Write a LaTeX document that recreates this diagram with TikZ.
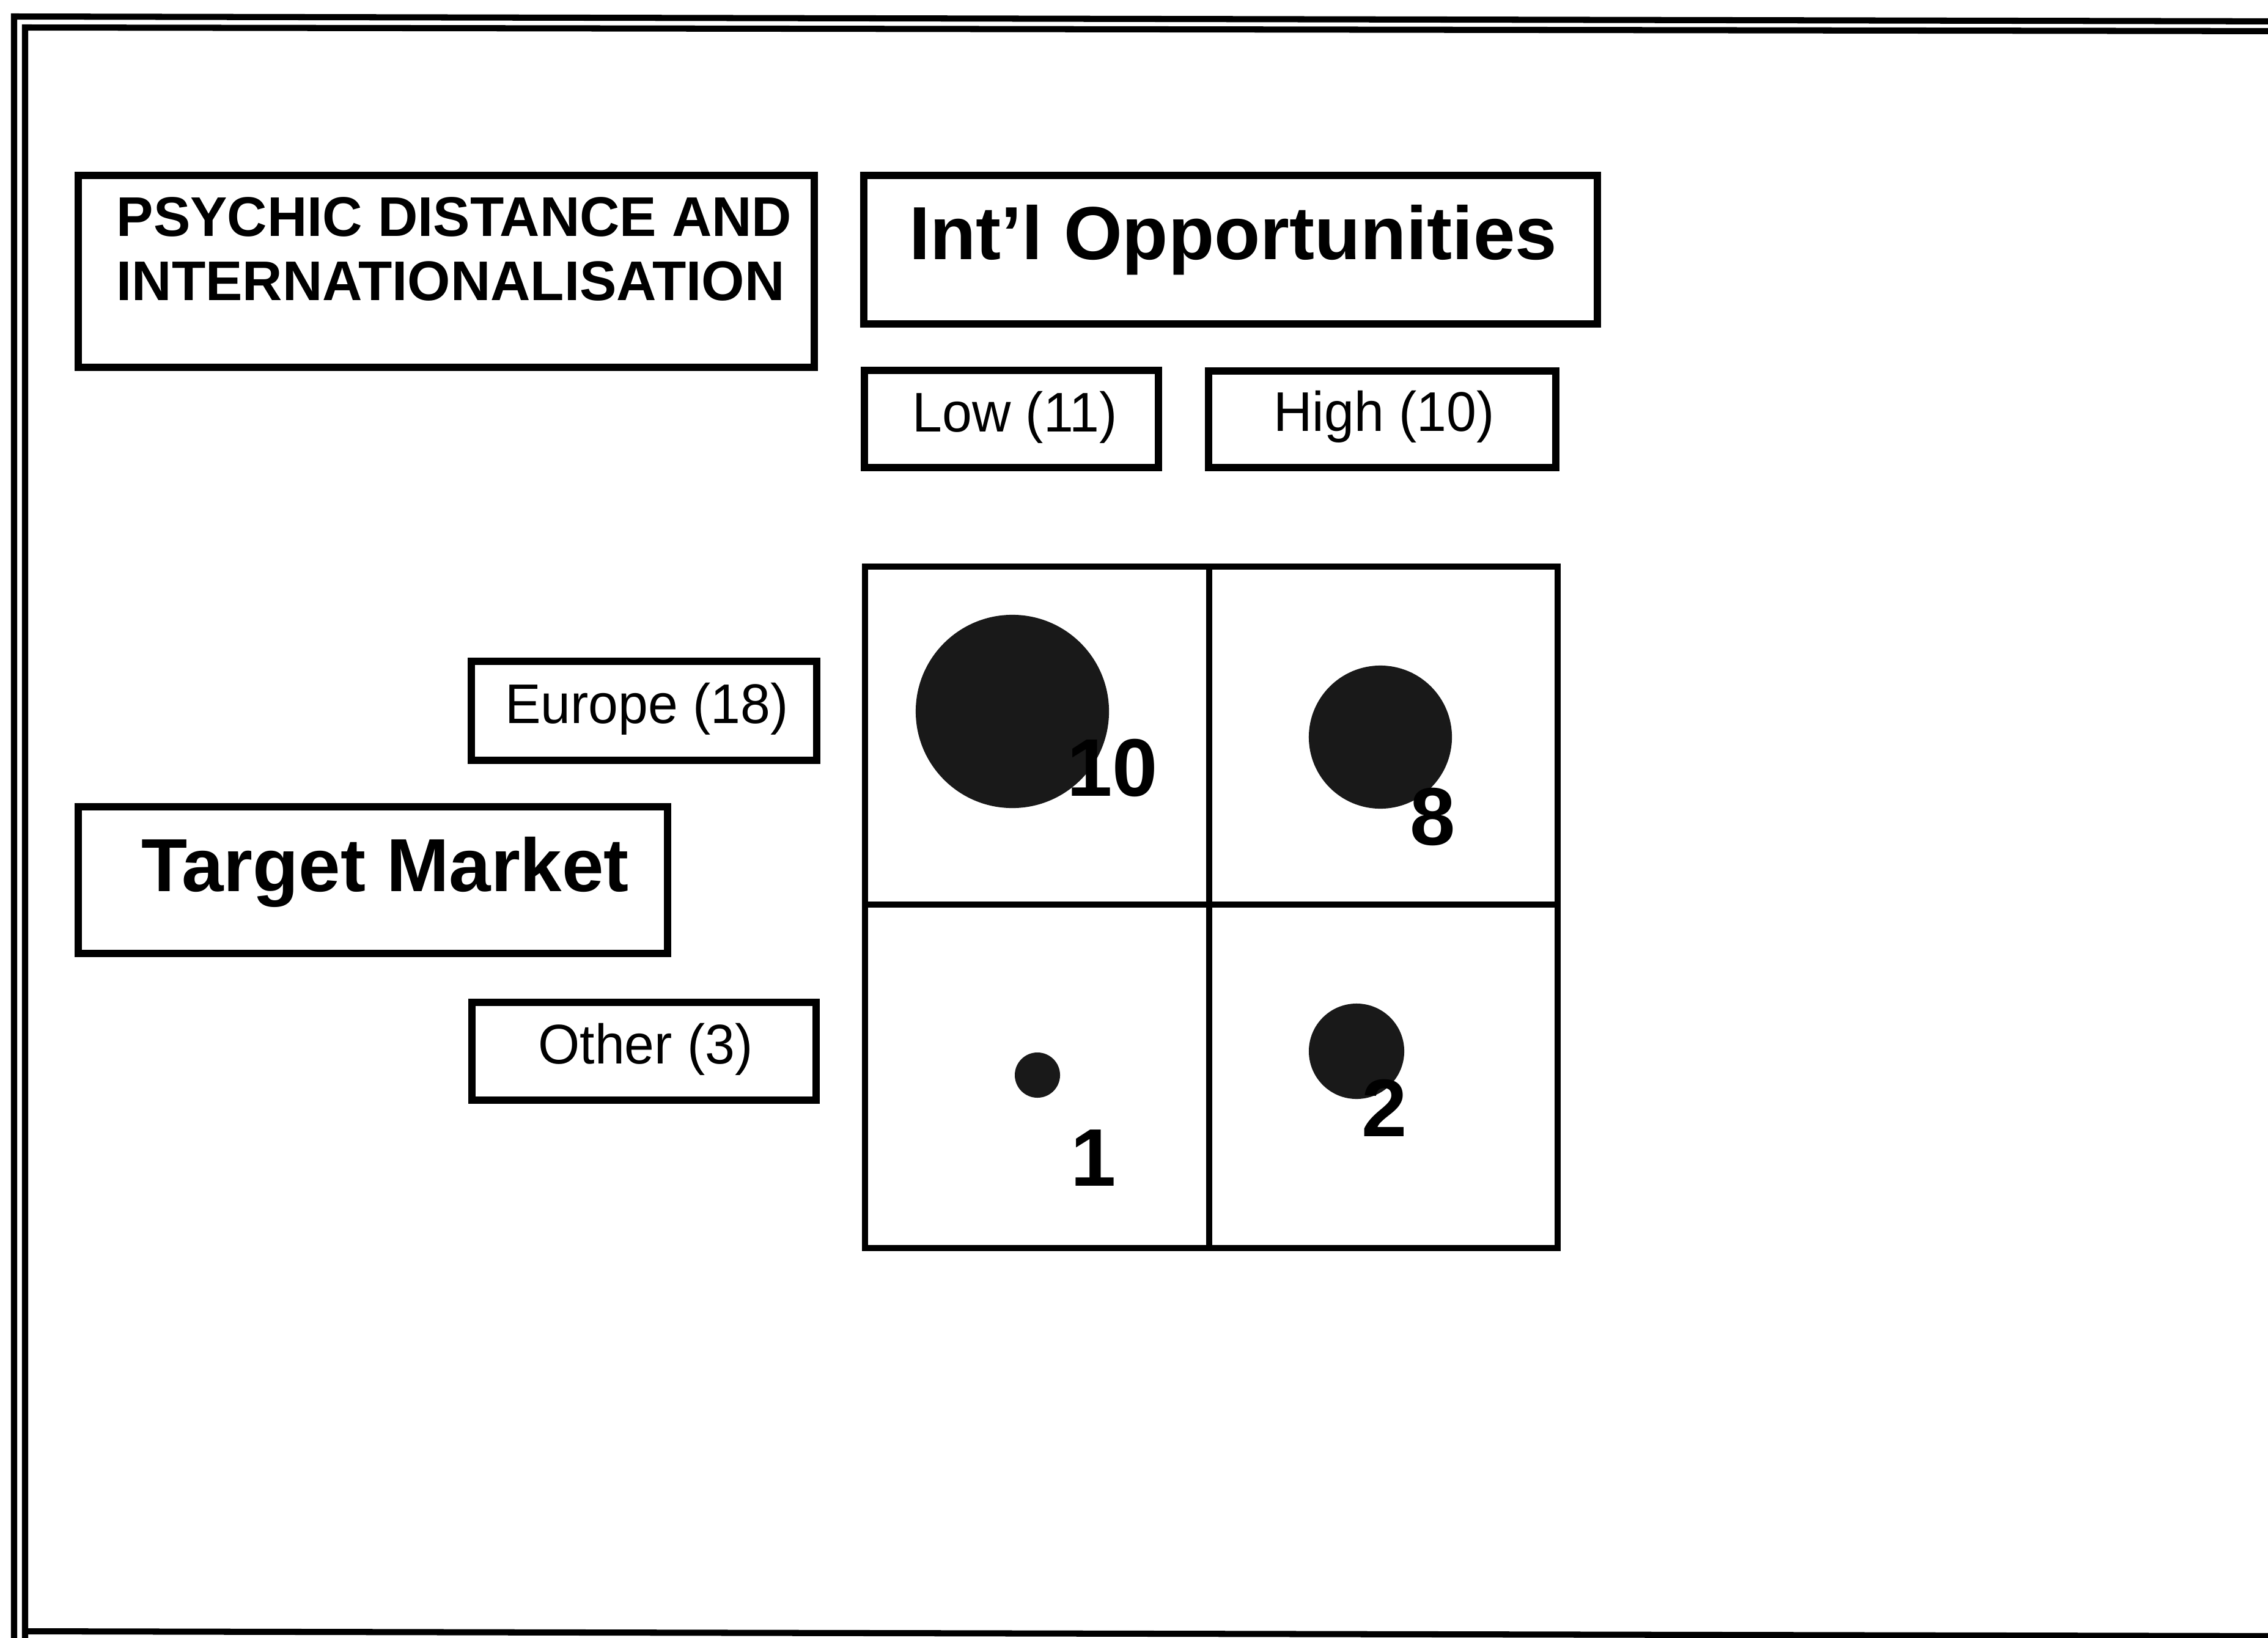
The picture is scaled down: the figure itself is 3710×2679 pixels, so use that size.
\documentclass[tikz,border=0pt]{standalone}
\usepackage{fontspec}
\setmainfont{Liberation Sans}
% slightly narrowed face for the category labels; title face at natural width
\newfontfamily\labelfont[FakeStretch=0.96]{Liberation Sans}
\newfontfamily\headfont[FakeStretch=0.99]{Liberation Sans}
\begin{document}
\begin{tikzpicture}[x=0.01cm, y=-0.01cm,
  frameline/.style={line width=2.85pt, line join=miter},
  box/.style={draw, rectangle, line width=3.4pt, inner sep=0pt},
  gridline/.style={line width=3.1pt, line cap=rect, line join=miter},
  bigtext/.style={font=\fontsize{35}{42}\selectfont\bfseries, inner sep=0pt, anchor=base},
  cattext/.style={font=\labelfont\fontsize{26}{31}\selectfont, inner sep=0pt, anchor=base},
  dot/.style={circle, draw=none, fill=black!90, inner sep=0pt},
  count/.style={font=\fontsize{38}{45}\selectfont\bfseries, inner sep=0pt, anchor=base east}]

  % page
  \fill[white] (0,0) rectangle (3710,2679);
  \useasboundingbox (0,0) rectangle (3710,2679);

  % double frame (its right and lower outer edges run off the page)
  \draw[frameline] (23,2700) -- (23,27) -- (3760,35);
  \draw[frameline] (41,2700) -- (41,45) -- (3760,51);
  \draw[frameline] (41,2669) -- (3760,2677);

  % heading boxes
  \node[box, minimum width=12.04cm, minimum height=3.14cm] (titlebox) at (730,444) {};
  \node[font=\headfont\fontsize{26}{29.9}\selectfont\bfseries, align=left,
        inner sep=0pt, anchor=north west] (titletext) at (190,322)
        {PSYCHIC DISTANCE AND\\INTERNATIONALISATION};

  \node[box, minimum width=12.00cm, minimum height=2.43cm] (oppbox) at (2013,408.5) {};
  \node[bigtext] (opptext) at (2017,424) {Int’l Opportunities};

  \node[box, minimum width=4.81cm, minimum height=1.59cm] (lowbox) at (1654.5,685.5) {};
  \node[cattext] (lowtext) at (1660,706) {Low (11)};

  \node[box, minimum width=5.68cm, minimum height=1.58cm] (highbox) at (2261,686) {};
  \node[cattext] (hightext) at (2264,705) {High (10)};

  \node[box, minimum width=5.65cm, minimum height=1.62cm] (eurobox) at (1053.5,1163) {};
  \node[cattext] (eurotext) at (1058,1183) {Europe (18)};

  \node[box, minimum width=9.64cm, minimum height=2.40cm] (marketbox) at (610,1440) {};
  \node[bigtext] (markettext) at (630,1458) {Target Market};

  \node[box, minimum width=5.63cm, minimum height=1.60cm] (otherbox) at (1053.5,1720) {};
  \node[cattext] (othertext) at (1056,1740) {Other (3)};

  % two-by-two matrix
  \draw[gridline] (1415,927) rectangle (2548,2042);
  \draw[gridline] (1978,927) -- (1978,2042);
  \draw[gridline] (1415,1480) -- (2548,1480);

  % bubbles sized by count
  \node[dot, minimum size=3.16cm] (eurolow)   at (1656,1164) {};
  \node[dot, minimum size=2.34cm] (eurohigh)  at (2258,1206) {};
  \node[dot, minimum size=0.74cm] (otherlow)  at (1697,1759) {};
  \node[dot, minimum size=1.56cm] (otherhigh) at (2219,1720) {};

  \node[count] (n10) at (1895,1302) {10};
  \node[count] (n8)  at (2381,1382) {8};
  \node[count] (n1)  at (1826,1940) {1};
  \node[count] (n2)  at (2302,1859) {2};
\end{tikzpicture}
\end{document}
